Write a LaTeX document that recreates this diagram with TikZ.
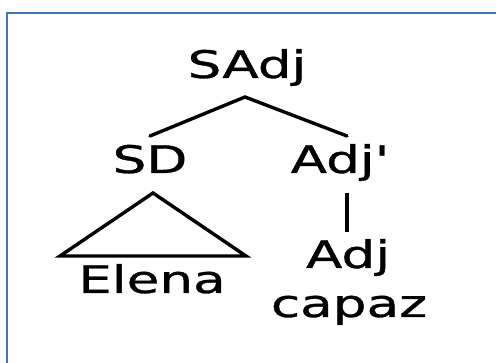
\documentclass[tikz,border=0pt]{standalone}
\usepackage{fontspec}
\usepackage{graphicx}
\newfontfamily\lblfont[FakeBold=0.8]{DejaVu Sans}
\begin{document}
\begin{tikzpicture}[x=1pt,y=-1pt,
  lbl/.style={anchor=base,inner sep=0pt,font=\fontsize{38}{40}\lblfont},
  branch/.style={line width=3.4pt,line cap=round,line join=miter}]
\useasboundingbox (0,0) rectangle (496,363);
% frame
\draw[color={rgb,255:red,68;green,114;blue,196},line width=1.6pt] (7,380) -- (7,13) -- (510,13);
% labels
\newcommand{\wide}[1]{\scalebox{1.4}[1]{#1}}
\node[lbl] (sadj) at (247,78) {\wide{SAdj}};
\node[lbl] (sd) at (150,173) {\wide{SD}};
\node[lbl] (adjbar) at (340,173) {\wide{Adj'}};
\node[lbl] (adj) at (348,268) {\wide{Adj}};
\node[lbl] (elena) at (152,293) {\wide{Elena}};
\node[lbl] (capaz) at (349,317) {\wide{capaz}};
% branch points
\coordinate (top) at (245,97);
\coordinate (sdtop) at (150,136);
\coordinate (adjbartop) at (347,136);
\coordinate (apex) at (153,193);
\coordinate (bl) at (60,256);
\coordinate (br) at (246,256);
\coordinate (vtop) at (347,193);
\coordinate (vbot) at (347,232);
\draw[branch] (sdtop) -- (top) -- (adjbartop);
\draw[branch] (bl) -- (apex) -- (br) -- cycle;
\draw[branch,line cap=butt] (vtop) -- (vbot);
\end{tikzpicture}
\end{document}
